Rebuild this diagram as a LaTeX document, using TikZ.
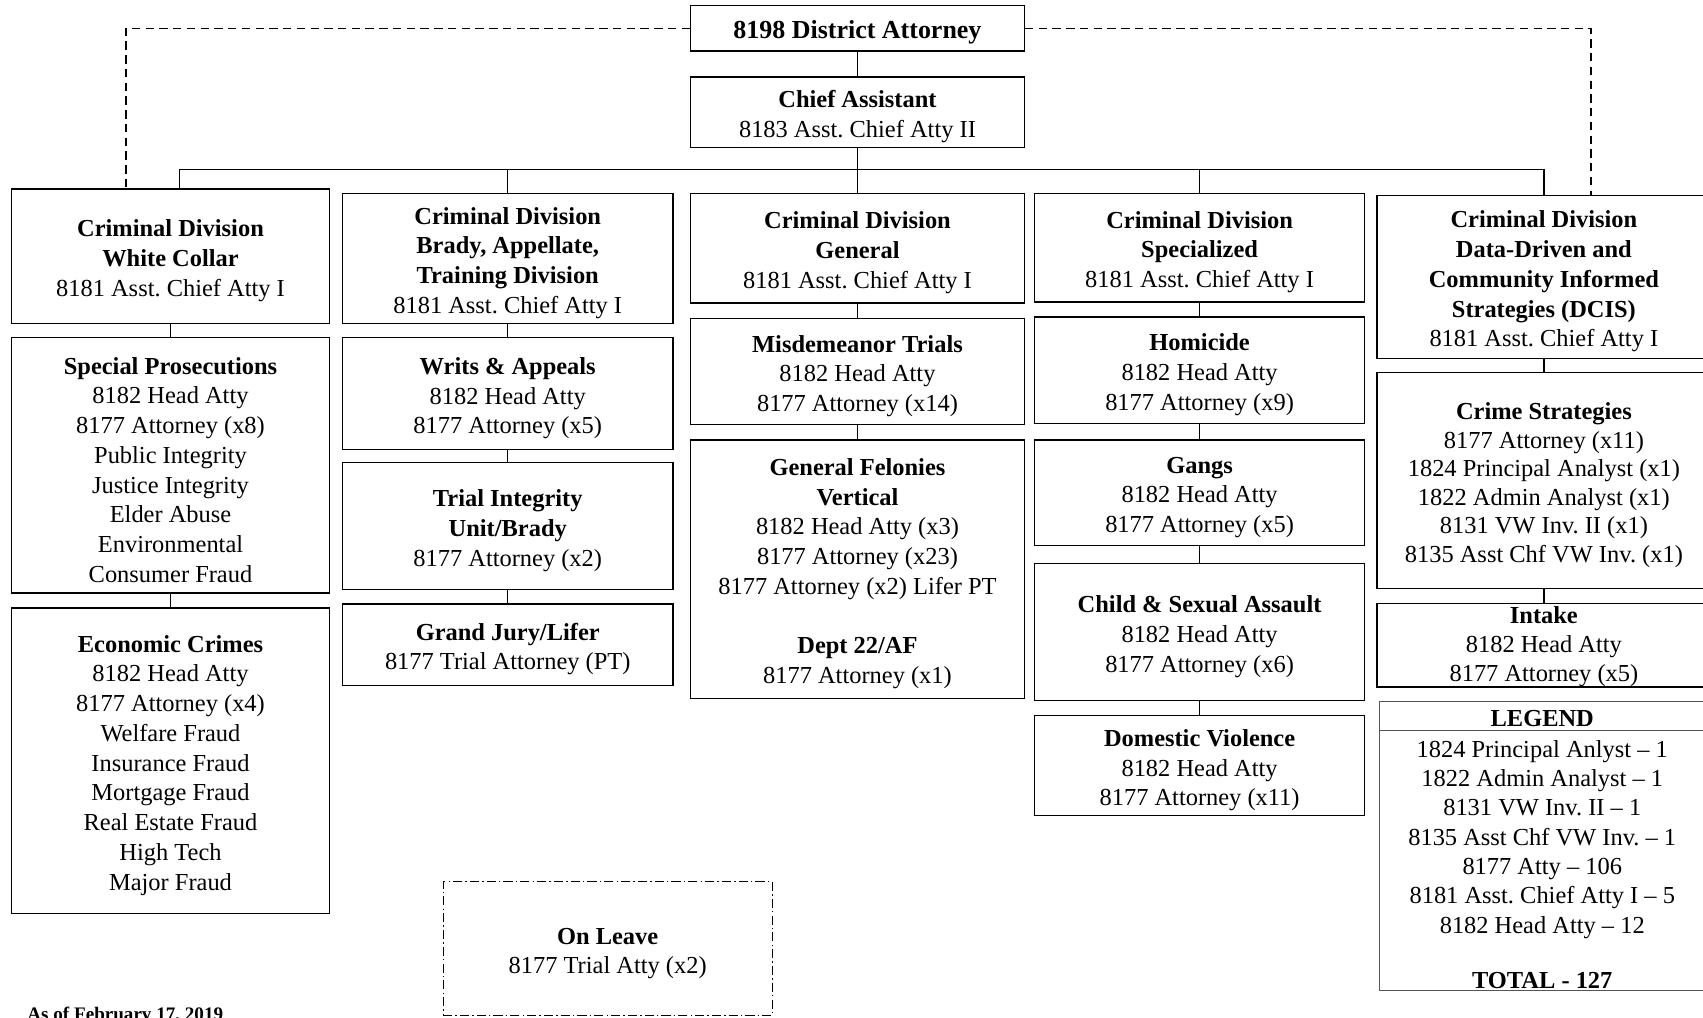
\documentclass[tikz,border=0pt]{standalone}
\usepackage{fontspec}
\setmainfont{Liberation Serif}
\usepackage{xcolor}
\usepackage{tikz}
\setlength{\parindent}{0pt}
\frenchspacing
\definecolor{legendcolor}{HTML}{555555}
\tikzset{%
textdrop/.style={execute at begin node={\rule{0pt}{#1}}},%
boxline/.style={draw, rectangle, line width=0.9pt, inner sep=0pt, text width=7cm, align=flush center, font=\fontsize{16}{19.5}\selectfont},%
unitbox/.style={boxline, textdrop=17pt},%
leavebox/.style={unitbox, line width=0.7pt, dash pattern=on 6pt off 2pt on 1pt off 2pt},%
legendbox/.style={draw=legendcolor, rectangle, line width=0.6pt, inner sep=0pt},%
legendtext/.style={inner sep=0pt, align=center, font=\fontsize{16}{19.2}\selectfont},%
link/.style={line width=0.9pt},%
dashlink/.style={line width=0.9pt, dash pattern=on 5.5pt off 3.5pt},%
}

\begin{document}
\begin{tikzpicture}[x=0.025cm, y=-0.025cm]%
\useasboundingbox (0, 0) rectangle (1568, 937);%
\node[unitbox, minimum width=7.675cm, minimum height=1.05cm, font=\fontsize{17}{20}\selectfont] (da) at (789.5, 26) {\textbf{8198 District Attorney}};%
\node[unitbox, minimum width=7.675cm, minimum height=1.625cm] (chief) at (789.5, 103.5) {\textbf{Chief Assistant}\\8183 Asst. Chief Atty II};%
\node[unitbox, minimum width=7.325cm, minimum height=3.1cm] (wc) at (157, 236) {\textbf{Criminal Division}\\\textbf{White Collar}\\8181 Asst. Chief Atty I};%
\node[unitbox, minimum width=7.325cm, minimum height=5.875cm] (sp) at (157, 428.5) {\textbf{Special Prosecutions}\\8182 Head Atty\\8177 Attorney (x8)\\Public Integrity\\Justice Integrity\\Elder Abuse\\Environmental\\Consumer Fraud};%
\node[unitbox, minimum width=7.325cm, minimum height=7.025cm] (ec) at (157, 700.5) {\textbf{Economic Crimes}\\8182 Head Atty\\8177 Attorney (x4)\\Welfare Fraud\\Insurance Fraud\\Mortgage Fraud\\Real Estate Fraud\\High Tech\\Major Fraud};%
\node[unitbox, minimum width=7.6cm, minimum height=3.0cm] (brady) at (467.5, 238) {\textbf{Criminal Division}\\\textbf{Brady, Appellate,}\\\textbf{Training Division}\\8181 Asst. Chief Atty I};%
\node[unitbox, minimum width=7.6cm, minimum height=2.575cm] (writs) at (467.5, 362.5) {\textbf{Writs \& Appeals}\\8182 Head Atty\\8177 Attorney (x5)};%
\node[unitbox, minimum width=7.6cm, minimum height=2.925cm] (tiu) at (467.5, 484.5) {\textbf{Trial Integrity}\\\textbf{Unit/Brady}\\8177 Attorney (x2)};%
\node[unitbox, minimum width=7.6cm, minimum height=1.875cm] (gj) at (467.5, 593.5) {\textbf{Grand Jury/Lifer}\\8177 Trial Attorney (PT)};%
\node[unitbox, minimum width=7.675cm, minimum height=2.525cm] (gen) at (789.5, 228.5) {\textbf{Criminal Division}\\\textbf{General}\\8181 Asst. Chief Atty I};%
\node[unitbox, minimum width=7.675cm, minimum height=2.45cm] (misd) at (789.5, 342) {\textbf{Misdemeanor Trials}\\8182 Head Atty\\8177 Attorney (x14)};%
\node[unitbox, minimum width=7.675cm, minimum height=5.95cm] (gf) at (789.5, 524) {\textbf{General Felonies}\\\textbf{Vertical}\\8182 Head Atty (x3)\\8177 Attorney (x23)\\8177 Attorney (x2) Lifer PT\\[19.5pt]\textbf{Dept 22/AF}\\8177 Attorney (x1)};%
\node[unitbox, minimum width=7.6cm, minimum height=2.5cm] (spec) at (1104.5, 228) {\textbf{Criminal Division}\\\textbf{Specialized}\\8181 Asst. Chief Atty I};%
\node[unitbox, minimum width=7.6cm, minimum height=2.45cm] (hom) at (1104.5, 341) {\textbf{Homicide}\\8182 Head Atty\\8177 Attorney (x9)};%
\node[unitbox, minimum width=7.6cm, minimum height=2.425cm] (gangs) at (1104.5, 453.5) {\textbf{Gangs}\\8182 Head Atty\\8177 Attorney (x5)};%
\node[unitbox, minimum width=7.6cm, minimum height=3.15cm] (csa) at (1104.5, 582) {\textbf{Child \& Sexual Assault}\\8182 Head Atty\\8177 Attorney (x6)};%
\node[unitbox, minimum width=7.6cm, minimum height=2.3cm] (dv) at (1104.5, 705) {\textbf{Domestic Violence}\\8182 Head Atty\\8177 Attorney (x11)};%
\node[unitbox, minimum width=7.675cm, minimum height=3.75cm] (dcis) at (1421.5, 255) {\textbf{Criminal Division}\\\textbf{Data-Driven and}\\\textbf{Community Informed}\\\textbf{Strategies (DCIS)}\\8181 Asst. Chief Atty I};%
\node[unitbox, minimum width=7.675cm, minimum height=4.975cm, font=\fontsize{16}{18.7}\selectfont] (cs) at (1421.5, 442.5) {\textbf{Crime Strategies}\\8177 Attorney (x11)\\1824 Principal Analyst (x1)\\1822 Admin Analyst (x1)\\8131 VW Inv. II (x1)\\8135 Asst Chf VW Inv. (x1)};%
\node[boxline, minimum width=7.675cm, minimum height=1.9cm, font=\fontsize{16}{19.2}\selectfont, textdrop=13pt] (intake) at (1421.5, 594) {\textbf{Intake}\\8182 Head Atty\\8177 Attorney (x5)};%
\node[legendbox, minimum width=7.625cm, minimum height=6.65cm] (legend) at (1422.5, 779) {};%
\node[legendtext] (legendhead) at (1420, 662) {\textbf{LEGEND}};%
\node[legendtext] (legendbody) at (1420, 796) {1824 Principal Anlyst -- 1\\1822 Admin Analyst -- 1\\8131 VW Inv. II -- 1\\8135 Asst Chf VW Inv. -- 1\\8177 Atty -- 106\\8181 Asst. Chief Atty I -- 5\\8182 Head Atty -- 12\\[17pt]\textbf{TOTAL - 127}};%
\node[leavebox, minimum width=7.575cm, minimum height=3.075cm] (leave) at (559.5, 873.5) {\textbf{On Leave}\\8177 Trial Atty (x2)};%
\node[anchor=base west, inner sep=0pt, font=\fontsize{12.5}{15}\selectfont] (asof) at (25, 940) {\textbf{As of February 17, 2019}};%
\coordinate (bus) at (789.5, 156);%
\coordinate (dashl) at (116, 174);%
\coordinate (dashr) at (1465, 180);%
\draw[legendbox] ([yshift=-0.675cm]legend.north west) -- ([yshift=-0.675cm]legend.north east);%
\draw[link] (da) -- (chief);%
\draw[link] (chief) -- (bus);%
\draw[link] (bus) -| ([xshift=0.2cm]wc.north);%
\draw[link] (bus) -| (brady.north);%
\draw[link] (bus) -- (gen.north);%
\draw[link] (bus) -| (spec.north);%
\draw[link] (bus) -| (dcis.north);%
\draw[dashlink] (da.west) -| (dashl);%
\draw[dashlink] (da.east) -| (dashr);%
\draw[link] (wc) -- (sp);%
\draw[link] (sp) -- (ec);%
\draw[link] (brady) -- (writs);%
\draw[link] (writs) -- (tiu);%
\draw[link] (tiu) -- (gj);%
\draw[link] (gen) -- (misd);%
\draw[link] (misd) -- (gf);%
\draw[link] (spec) -- (hom);%
\draw[link] (hom) -- (gangs);%
\draw[link] (gangs) -- (csa);%
\draw[link] (csa) -- (dv);%
\draw[link] (dcis) -- (cs);%
\draw[link] (cs) -- (intake);%
\end{tikzpicture}
\end{document}
